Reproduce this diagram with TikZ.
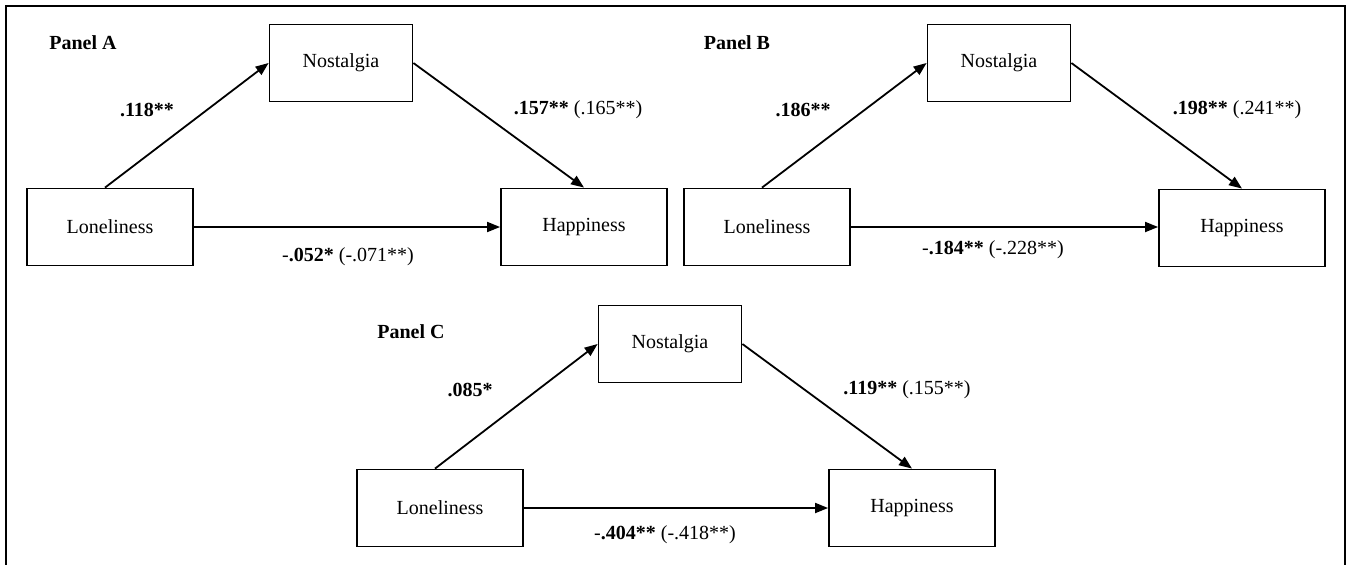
\documentclass[tikz,border=0pt]{standalone}
\usepackage{fontspec}
\setmainfont{Liberation Serif}
\usetikzlibrary{arrows.meta}

\begin{document}
\begin{tikzpicture}[x=1pt,y=-1pt,
        var/.style={draw,line width=1.8pt,minimum width=166pt,minimum height=77pt,
            font=\fontsize{20}{24}\selectfont},
        med/.style={var,minimum width=143pt,minimum height=77pt},
        coef/.style={font=\fontsize{20}{24}\selectfont},
        eff/.style={line width=1.8pt,-{Triangle[length=13pt,width=10pt]}}]
            \useasboundingbox (0,0) rectangle (1347,565);
            \draw[line width=2.6pt] (6,566) -- (6,6) -- (1345,6) -- (1345,566);

            % Panel A
            \node[coef] (panA) at (83,43) {\textbf{Panel A}};
            \node[var] (lonA) at (110,227) {Loneliness};
            \node[med] (nosA) at (341,63) {Nostalgia};
            \node[var] (hapA) at (584,227) {Happiness};
            \draw[eff] ([xshift=-5pt]lonA.north) -- (nosA.west);
            \draw[eff] (nosA.east) -- (hapA.north);
            \draw[eff] (lonA.east) -- (hapA.west);
            \node[coef] (aA) at (147,110) {\textbf{.118**}};
            \node[coef] (bA) at (578,110) {\textbf{.157**} (.165**)};
            \node[coef] (cA) at (348,257) {-\textbf{.052*} (-.071**)};

            % Panel B
            \node[coef] (panB) at (737,43) {\textbf{Panel B}};
            \node[var] (lonB) at (767,227) {Loneliness};
            \node[med] (nosB) at (999,63) {Nostalgia};
            \node[var] (hapB) at (1242,228) {Happiness};
            \draw[eff] ([xshift=-5pt]lonB.north) -- (nosB.west);
            \draw[eff] (nosB.east) -- (hapB.north);
            \draw[eff] (lonB.east) -- (lonB.east -| hapB.west);
            \node[coef] (aB) at (803,110) {\textbf{.186**}};
            \node[coef] (bB) at (1237,110) {\textbf{.198**} (.241**)};
            \node[coef] (cB) at (993,250) {-\textbf{.184**} (-.228**)};

            % Panel C
            \node[coef] (panC) at (411,332) {\textbf{Panel C}};
            \node[var] (lonC) at (440,508) {Loneliness};
            \node[med] (nosC) at (670,344) {Nostalgia};
            \node[var] (hapC) at (912,508) {Happiness};
            \draw[eff] ([xshift=-5pt]lonC.north) -- (nosC.west);
            \draw[eff] (nosC.east) -- (hapC.north);
            \draw[eff] (lonC.east) -- (hapC.west);
            \node[coef] (aC) at (470,390) {\textbf{.085*}};
            \node[coef] (bC) at (907,390) {\textbf{.119**} (.155**)};
            \node[coef] (cC) at (665,535) {-\textbf{.404**} (-.418**)};
        \end{tikzpicture}
\end{document}
